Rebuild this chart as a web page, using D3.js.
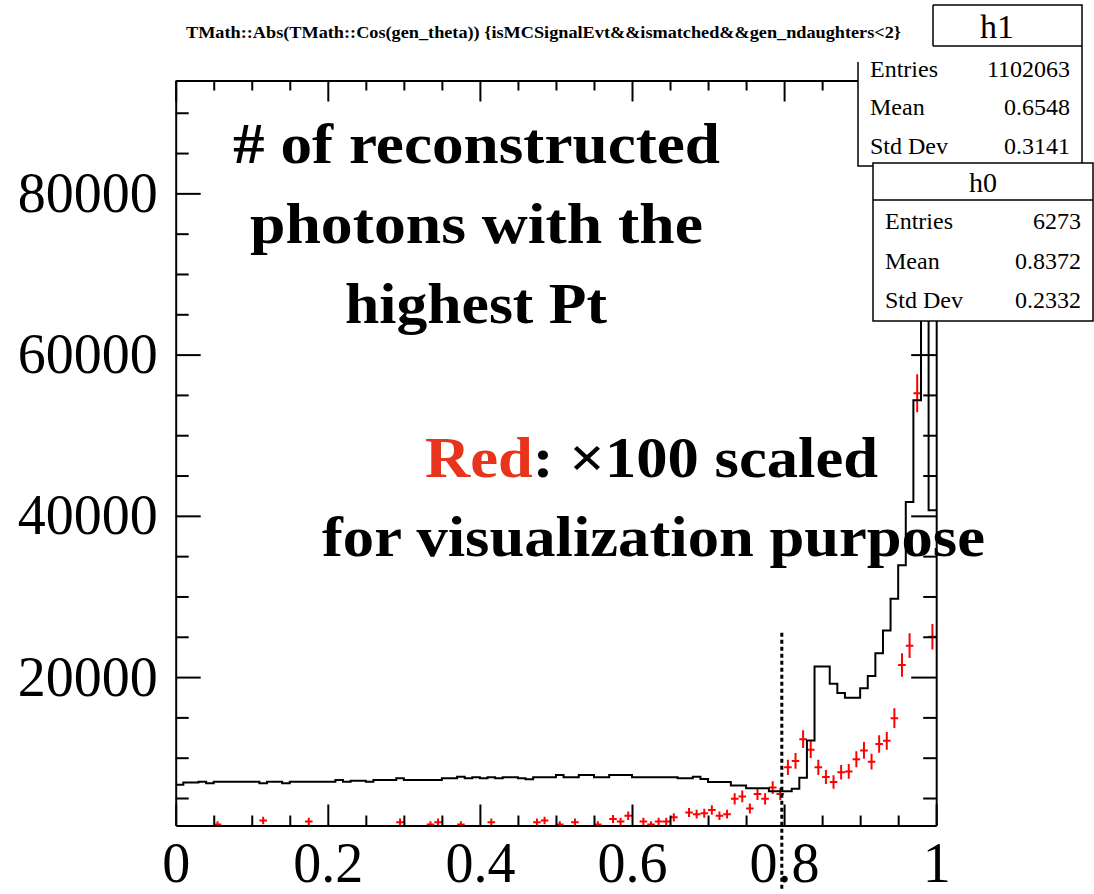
<!DOCTYPE html>
<html>
<head>
<meta charset="utf-8">
<script src="https://cdn.jsdelivr.net/npm/d3@7"></script>
<style>
  html, body { margin: 0; padding: 0; background: #fff; }
  svg { display: block; }
</style>
</head>
<body>
<svg id="chart" width="1094" height="894"></svg>
<script>
// |cos(theta)| of the generated photon, 100 bins on [0, 1]
const binCount = 100;
const xRange = [0, 1];

// h1: all matched photons (black outline histogram)
const h1Values = [
  6630, 6910, 6910, 7030, 6830, 7030, 7030, 7030, 7030, 7030,
  7030, 6830, 7030, 7030, 6830, 7030, 7030, 7030, 7030, 7030,
  7030, 7240, 7030, 7150, 7150, 7030, 7240, 7240, 7240, 7440,
  7240, 7240, 7240, 7240, 7240, 7440, 7440, 7640, 7440, 7560,
  7440, 7560, 7440, 7560, 7560, 7440, 7320, 7560, 7560, 7560,
  7850, 7560, 7560, 7850, 7850, 7560, 7560, 7850, 7850, 7850,
  7560, 7560, 7560, 7560, 7560, 7560, 7440, 7440, 7640, 7350,
  7000, 7000, 7000, 6550, 6550, 6220, 6220, 6220, 5850, 5850,
  5850, 6140, 7510, 12140, 21320, 21320, 19170, 18010, 17440, 17440,
  18630, 20120, 22970, 25790, 29730, 33860, 41720, 54340, 107000, 40700
];

// h0: highest-Pt reconstructed photons, raw counts (drawn x100)
const h0Counts = [
  9, 10, 8, 11, 9, 17, 10, 12, 9, 11,
  10, 22, 9, 11, 10, 12, 9, 21, 10, 11,
  9, 12, 10, 9, 11, 10, 12, 9, 11, 20,
  10, 12, 9, 17, 20, 11, 10, 17, 9, 12,
  11, 20, 10, 12, 11, 9, 12, 20, 22, 10,
  17, 12, 20, 11, 12, 17, 10, 24, 21, 28,
  12, 21, 17, 21, 21, 26, 11, 32, 30, 31,
  35, 28, 30, 49, 52, 37, 55, 49, 63, 55,
  88, 96, 123, 110, 88, 76, 70, 82, 83, 98,
  109, 95, 117, 121, 149, 215, 239, 552, 2130, 250
];
const h0Scale = 100;

// axes
const yRange = [1590, 94000];
const xTickLabels = ["0", "0.2", "0.4", "0.6", "0.8", "1"];
const xMinorStep = 0.05;
const yTickLabels = ["20000", "40000", "60000", "80000"];
const yMinorStep = 5000;

// annotations
const titleText = "TMath::Abs(TMath::Cos(gen_theta)) {isMCSignalEvt&&ismatched&&gen_ndaughters<2}";
const noteLines = ["# of reconstructed", "photons with the", "highest Pt"];
const scaleNoteWord = "Red";
const scaleNoteRest = ": \u00d7100 scaled";
const scaleNoteLine2 = "for visualization purpose";
const cutX = 0.797;
const cutSpan = [25500, -6600];

// statistics boxes
const h1Name = "h1";
const h1Stats = [["Entries", "1102063"], ["Mean", "0.6548"], ["Std Dev", "0.3141"]];
const h0Name = "h0";
const h0Stats = [["Entries", "6273"], ["Mean", "0.8372"], ["Std Dev", "0.2332"]];

// ---------------------------------------------------------------------------
const svg = d3.select("#chart");
const serif = "'Liberation Serif', 'Times New Roman', serif";
const frame = { left: 175.7, right: 936.2, top: 80.5, bottom: 825.5 };

const x = d3.scaleLinear().domain(xRange).range([frame.left, frame.right]);
const y = d3.scaleLinear().domain(yRange).range([frame.bottom, frame.top]);
const binW = (xRange[1] - xRange[0]) / binCount;

svg.append("defs").append("clipPath").attr("id", "plotClip")
  .append("rect")
  .attr("x", frame.left).attr("y", frame.top)
  .attr("width", frame.right - frame.left).attr("height", frame.bottom - frame.top);

const plot = svg.append("g").attr("clip-path", "url(#plotClip)");

// red error crosses (h0 x 100)
const h0Data = h0Counts.map((c, i) => ({
  lo: xRange[0] + i * binW,
  hi: xRange[0] + (i + 1) * binW,
  v: c * h0Scale,
  e: Math.sqrt(c) * h0Scale
})).filter(d => d.v > 0);

const crosses = plot.append("g")
  .attr("stroke", "#ff0000").attr("stroke-width", 2).attr("fill", "none");
crosses.selectAll("line.h").data(h0Data).join("line").attr("class", "h")
  .attr("x1", d => x(d.lo)).attr("x2", d => x(d.hi))
  .attr("y1", d => y(d.v)).attr("y2", d => y(d.v));
crosses.selectAll("line.v").data(h0Data).join("line").attr("class", "v")
  .attr("x1", d => x((d.lo + d.hi) / 2)).attr("x2", d => x((d.lo + d.hi) / 2))
  .attr("y1", d => y(d.v - d.e)).attr("y2", d => y(d.v + d.e));

// black step histogram (h1)
const stepPts = h1Values.map((v, i) => [xRange[0] + i * binW, v]);
stepPts.push([xRange[1], h1Values[h1Values.length - 1]]);
plot.append("path")
  .datum(stepPts)
  .attr("fill", "none").attr("stroke", "#000").attr("stroke-width", 2)
  .attr("d", d3.line().x(d => x(d[0])).y(d => y(d[1])).curve(d3.curveStepAfter));

// axes: inward ticks on all four sides
const xMajor = xTickLabels.map(Number);
const xMinor = d3.range(xRange[0], xRange[1] + 1e-9, xMinorStep).filter(v => !xMajor.some(m => Math.abs(m - v) < 1e-9));
const yMajor = yTickLabels.map(Number);
const yMinor = d3.range(5000, yRange[1], yMinorStep).filter(v => !yMajor.includes(v));

function styleAxis(g) {
  g.select(".domain").attr("stroke", "#000").attr("stroke-width", 2);
  g.selectAll(".tick line").attr("stroke", "#000").attr("stroke-width", 2);
}

const gxB = svg.append("g").attr("transform", `translate(0,${frame.bottom})`)
  .call(d3.axisBottom(x).tickValues(xMajor).tickSizeInner(-21).tickSizeOuter(0)
    .tickPadding(17).tickFormat((d, i) => xTickLabels[i]));
styleAxis(gxB);
gxB.selectAll("text").attr("font-family", serif).attr("font-size", 56).attr("fill", "#000");
svg.append("g").attr("transform", `translate(0,${frame.bottom})`)
  .call(d3.axisBottom(x).tickValues(xMinor).tickSizeInner(-10).tickSizeOuter(0).tickFormat(""))
  .call(styleAxis).select(".domain").remove();

const gxT = svg.append("g").attr("transform", `translate(0,${frame.top})`)
  .call(d3.axisTop(x).tickValues(xMajor).tickSizeInner(-21).tickSizeOuter(0).tickFormat(""));
styleAxis(gxT);
svg.append("g").attr("transform", `translate(0,${frame.top})`)
  .call(d3.axisTop(x).tickValues(xMinor).tickSizeInner(-10).tickSizeOuter(0).tickFormat(""))
  .call(styleAxis).select(".domain").remove();

const gyL = svg.append("g").attr("transform", `translate(${frame.left},0)`)
  .call(d3.axisLeft(y).tickValues(yMajor).tickSizeInner(-25).tickSizeOuter(0)
    .tickPadding(18).tickFormat((d, i) => yTickLabels[i]));
styleAxis(gyL);
gyL.selectAll("text").attr("font-family", serif).attr("font-size", 56).attr("fill", "#000");
svg.append("g").attr("transform", `translate(${frame.left},0)`)
  .call(d3.axisLeft(y).tickValues(yMinor).tickSizeInner(-13).tickSizeOuter(0).tickFormat(""))
  .call(styleAxis).select(".domain").remove();

const gyR = svg.append("g").attr("transform", `translate(${frame.right},0)`)
  .call(d3.axisRight(y).tickValues(yMajor).tickSizeInner(-25).tickSizeOuter(0).tickFormat(""));
styleAxis(gyR);
svg.append("g").attr("transform", `translate(${frame.right},0)`)
  .call(d3.axisRight(y).tickValues(yMinor).tickSizeInner(-13).tickSizeOuter(0).tickFormat(""))
  .call(styleAxis).select(".domain").remove();

// dashed cut line at |cos| ~ 0.8
svg.append("line")
  .attr("x1", x(cutX)).attr("x2", x(cutX))
  .attr("y1", y(cutSpan[0])).attr("y2", y(cutSpan[1]))
  .attr("stroke", "#000").attr("stroke-width", 3).attr("stroke-dasharray", "4,3");

// annotation text
const note = svg.append("g").attr("font-family", serif).attr("font-weight", "bold")
  .attr("font-size", 58).attr("fill", "#000").attr("text-anchor", "middle");
const noteLayout = [
  { cx: 476.5, base: 163, w: 487 },
  { cx: 476.5, base: 243, w: 453 },
  { cx: 476, base: 323, w: 262 }
];
noteLines.forEach((t, i) => {
  note.append("text").attr("x", noteLayout[i].cx).attr("y", noteLayout[i].base)
    .attr("textLength", noteLayout[i].w).attr("lengthAdjust", "spacingAndGlyphs").text(t);
});
const scaleLine = note.append("text").attr("x", 651.5).attr("y", 477)
  .attr("textLength", 453).attr("lengthAdjust", "spacingAndGlyphs");
scaleLine.append("tspan").attr("fill", "#e8341c").text(scaleNoteWord);
scaleLine.append("tspan").text(scaleNoteRest);
note.append("text").attr("x", 653.5).attr("y", 556)
  .attr("textLength", 663).attr("lengthAdjust", "spacingAndGlyphs").text(scaleNoteLine2);

// statistics box for h1 (partly hidden under the title and the h0 box)
function statsBox(g, b, name, rows, opts) {
  g.append("rect").attr("x", b.x0).attr("y", b.y0).attr("width", b.x1 - b.x0).attr("height", b.y1 - b.y0)
    .attr("fill", "#fff").attr("stroke", "#000").attr("stroke-width", 1.5);
  g.append("line").attr("x1", b.x0).attr("x2", b.x1).attr("y1", b.sep).attr("y2", b.sep)
    .attr("stroke", "#000").attr("stroke-width", 1.5);
  g.append("text").attr("x", opts.nameX).attr("y", opts.nameBase).attr("text-anchor", "middle")
    .attr("font-family", serif).attr("font-size", opts.nameSize).text(name);
  rows.forEach((r, i) => {
    g.append("text").attr("x", b.x0 + 12).attr("y", opts.rowBase[i])
      .attr("font-family", serif).attr("font-size", 24).text(r[0]);
    g.append("text").attr("x", b.x1 - 12).attr("y", opts.rowBase[i]).attr("text-anchor", "end")
      .attr("font-family", serif).attr("font-size", 24).text(r[1]);
  });
}

const h1Box = { x0: 858, x1: 1082, y0: 5, y1: 166, sep: 46 };
statsBox(svg.append("g"), h1Box, h1Name, h1Stats, { nameX: 997, nameBase: 38, nameSize: 34, rowBase: [77, 115, 154] });

// title pave (white, no border)
svg.append("rect").attr("x", 160).attr("y", 0).attr("width", 933 - 160).attr("height", 62).attr("fill", "#fff");
svg.append("line").attr("x1", 933).attr("x2", 933).attr("y1", h1Box.y0).attr("y2", h1Box.sep)
  .attr("stroke", "#000").attr("stroke-width", 1.5);
svg.append("text").attr("x", 543.5).attr("y", 38).attr("text-anchor", "middle")
  .attr("font-family", serif).attr("font-weight", "bold").attr("font-size", 17)
  .attr("textLength", 715).attr("lengthAdjust", "spacingAndGlyphs").text(titleText);

const h0Box = { x0: 873, x1: 1093, y0: 163, y1: 321, sep: 200 };
statsBox(svg.append("g"), h0Box, h0Name, h0Stats, { nameX: 983, nameBase: 192, nameSize: 28, rowBase: [229, 269, 308] });
</script>
</body>
</html>
